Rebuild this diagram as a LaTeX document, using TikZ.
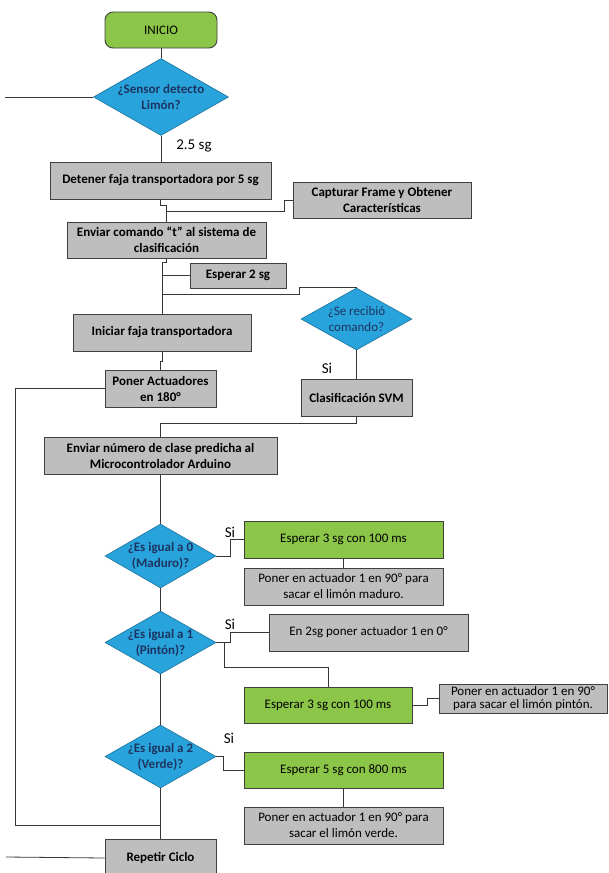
\documentclass[tikz,border=0pt]{standalone}
\usepackage{fontspec}
\setmainfont{Carlito}
\usetikzlibrary{shapes.geometric}
\definecolor{verdecaja}{RGB}{140,198,72}
\definecolor{azuldec}{RGB}{40,163,220}
\definecolor{grisbox}{RGB}{190,190,190}
\definecolor{bordegris}{RGB}{64,64,64}
\definecolor{textoazul}{RGB}{28,52,95}
\definecolor{linea}{RGB}{55,55,55}
\begin{document}
\begin{tikzpicture}[x=1pt,y=-1pt,line width=0.8pt,
                    caja/.style={draw=bordegris,line width=0.9pt,fill=grisbox,inner sep=0pt,align=center,font=\fontsize{13}{16}\selectfont\bfseries},
                    accion/.style={caja,font=\fontsize{13}{16}\selectfont},
                    espera/.style={accion,fill=verdecaja},
                    decision/.style={diamond,draw=azuldec!70!black,line width=0.6pt,fill=azuldec,inner sep=0pt},
                    textodec/.style={align=center,text=textoazul,font=\fontsize{13}{16}\selectfont\bfseries},
                    etiqueta/.style={font=\fontsize{15}{17}\selectfont}]
                \useasboundingbox (0,0) rectangle (608,873);
                \node[espera,rounded corners=8pt,minimum width=112,minimum height=36] (inicio) at (161,30) {INICIO};
                \node[decision,minimum width=135,minimum height=77,label={[textodec]center:¿Sensor detecto\\Limón?}] (sensor) at (161,97) {};
                \node[etiqueta] (lbl25) at (194,146) {2.5 sg};
                \node[caja,minimum width=221,minimum height=37] (detener) at (160.5,180.5) {Detener faja transportadora por 5 sg};
                \node[caja,minimum width=178,minimum height=36] (capturar) at (382,200) {Capturar Frame y Obtener\\Características};
                \node[caja,minimum width=199,minimum height=36] (enviart) at (166.5,240) {Enviar comando “t” al sistema de\\clasificación};
                \node[caja,minimum width=96,minimum height=25] (esperar2) at (238,275.5) {Esperar 2 sg};
                \node[decision,minimum width=111,minimum height=62,label={[textodec,font=\fontsize{13}{16}\selectfont]center:¿Se recibió\\comando?}] (recibio) at (356.5,319) {};
                \node[caja,minimum width=178,minimum height=37] (iniciar) at (162,332.5) {Iniciar faja transportadora};
                \node[etiqueta] (lblsi1) at (327,368) {Si};
                \node[caja,minimum width=111,minimum height=37] (svm) at (356.5,397.5) {Clasificación SVM};
                \node[caja,minimum width=111,minimum height=37] (actuadores) at (160.5,388.5) {Poner Actuadores\\en 180°};
                \node[caja,minimum width=233,minimum height=37] (enviarnum) at (160.5,455.5) {Enviar número de clase predicha al\\Microcontrolador Arduino};
                \node[decision,minimum width=111,minimum height=64,label={[textodec]center:¿Es igual a 0\\(Maduro)?}] (igual0) at (160.5,556) {};
                \node[etiqueta] (lblsi2) at (230,532) {Si};
                \node[espera,minimum width=199,minimum height=37] (esp0) at (343.5,539.5) {Esperar 3 sg con 100 ms};
                \node[accion,minimum width=199,minimum height=37] (maduro) at (343.5,586.5) {Poner en actuador 1 en 90° para\\sacar el limón maduro.};
                \node[decision,minimum width=111,minimum height=63,label={[textodec]center:¿Es igual a 1\\(Pintón)?}] (igual1) at (160.5,642.5) {};
                \node[etiqueta] (lblsi3) at (230,624) {Si};
                \node[accion,minimum width=199,minimum height=37] (en2sg) at (368.5,632.5) {En 2sg poner actuador 1 en 0°};
                \node[espera,minimum width=168,minimum height=36] (esp1) at (328,705) {Esperar 3 sg con 100 ms};
                \node[accion,font=\fontsize{13}{13.5}\selectfont,minimum width=168,minimum height=29] (pinton) at (523,698.5) {Poner en actuador 1 en 90°\\para sacar el limón pintón.};
                \node[decision,minimum width=111,minimum height=63,label={[textodec]center:¿Es igual a 2\\(Verde)?}] (igual2) at (160.5,756.5) {};
                \node[etiqueta] (lblsi4) at (229,738) {Si};
                \node[espera,minimum width=199,minimum height=36] (esp2) at (343.5,770) {Esperar 5 sg con 800 ms};
                \node[accion,minimum width=199,minimum height=37] (verde) at (343.5,825.5) {Poner en actuador 1 en 90° para\\sacar el limón verde.};
                \node[caja,minimum width=111,minimum height=38] (repetir) at (160.5,858) {Repetir Ciclo};
                \coordinate (sal1) at (5,97);
                \coordinate (sal2) at (6,857);
                \coordinate (j1) at (166.5,211);
                \coordinate (j2) at (162,294);
                \coordinate (j3) at (160.5,825);
                \coordinate (j4) at (224,667);
                \draw[linea] (inicio) -- (sensor);
                \draw[linea] (sensor.west) -- (sal1);
                \draw[linea] (sensor.south) -- (detener.north -| sensor.south);
                \draw[linea] (detener.south) -- ++(0,6) -| (enviart.north);
                \draw[linea] (capturar.west) -- ++(-8,0) |- (j1);
                \draw[linea] (enviart.south) -- ++(0,4) -| (iniciar.north);
                \draw[linea] (esperar2.west) -- (esperar2.west -| iniciar.north);
                \draw[linea] (recibio.north) -- ++(-57,0) |- (j2);
                \draw[linea] (recibio.south) -- (svm.north);
                \draw[linea] (iniciar.south) -- ++(0,10) -| (actuadores.north);
                \draw[linea] (actuadores.west) -- (actuadores.west -| 15,0) |- (j3);
                \draw[linea] (svm.south) -- ++(0,7) -| (enviarnum.north);
                \draw[linea] (enviarnum) -- (igual0);
                \draw[linea] (igual0) -- (igual1);
                \draw[linea] (igual1) -- (igual2);
                \draw[linea] (igual2) -- (repetir);
                \draw[linea] (igual0.east) -- ++(14,0) |- (esp0.west);
                \draw[linea] (esp0) -- (maduro);
                \draw[linea] (igual1.east) -- ++(14,0) |- (en2sg.west);
                \draw[linea] (j4 |- igual1.east) -- (j4) -| (esp1.north);
                \draw[linea] (esp1.east) -- ++(15,0) |- (pinton.west);
                \draw[linea] (igual2.east) -- ++(7,0) |- (esp2.west);
                \draw[linea] (esp2) -- (verde);
                \draw[linea] (repetir.west) -- (sal2);
\end{tikzpicture}
\end{document}
